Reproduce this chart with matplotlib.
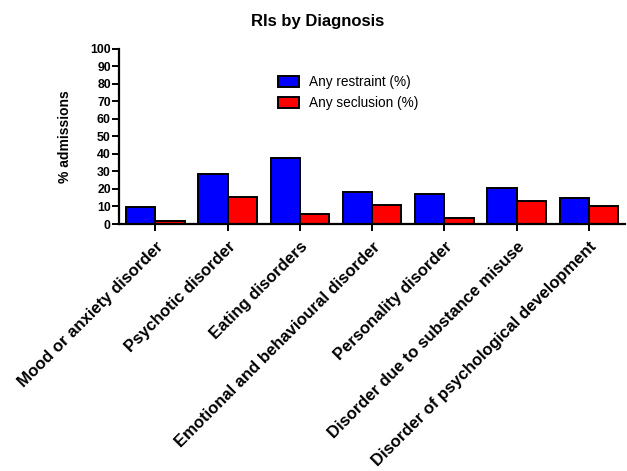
import numpy as np
import matplotlib.pyplot as plt

plt.rcParams['font.family'] = ['Liberation Sans', 'DejaVu Sans']

diagnoses = ['Mood or anxiety disorder', 'Psychotic disorder', 'Eating disorders',
             'Emotional and behavioural disorder', 'Personality disorder',
             'Disorder due to substance misuse', 'Disorder of psychological development']
restraint = [9.6, 28.3, 37.8, 18.3, 17.4, 20.3, 14.9]
seclusion = [1.9, 15.3, 5.7, 10.9, 3.4, 13.4, 10.1]
yticks = list(range(0, 101, 10))

fig = plt.figure(figsize=(6.27, 4.71), dpi=100)
ax = fig.add_axes([0.19, 0.5244, 0.807, 0.372])

x = np.arange(len(diagnoses))
w = 0.405
ax.bar(x - w / 2, restraint, w, color='#0000ff', edgecolor='black', linewidth=1.4,
       label='Any restraint (%)')
ax.bar(x + w / 2, seclusion, w, color='#ff0000', edgecolor='black', linewidth=1.4,
       label='Any seclusion (%)')

ax.set_xlim(-0.5, len(diagnoses) - 0.5)
ax.set_ylim(0, 100)
ax.set_yticks(yticks)
ax.set_yticklabels([str(t) for t in yticks], fontweight='bold', fontsize=8.8)
ax.set_xticks(x)
ax.set_xticklabels(diagnoses, rotation=45, ha='right', va='top', rotation_mode='anchor',
                   fontweight='bold', fontsize=12)
for lab in ax.get_xticklabels():
    lab.set_y(-0.04)
ax.tick_params(axis='both', direction='out', length=5, width=1.4, pad=1)
ax.spines['top'].set_visible(False)
ax.spines['right'].set_visible(False)
ax.spines['left'].set_linewidth(1.6)
ax.spines['bottom'].set_linewidth(1.6)

ax.set_ylabel('% admissions', fontweight='bold', fontsize=10, labelpad=13)
fig.text(0.506, 0.955, 'RIs by Diagnosis', ha='center', va='center',
         fontweight='bold', fontsize=12)

ax.legend(loc='upper left', bbox_to_anchor=(0.29, 0.92), frameon=False, fontsize=9.8,
          handlelength=1.5, handleheight=0.9, handletextpad=0.8, labelspacing=0.5)

fig.savefig('out.png', dpi=100)
